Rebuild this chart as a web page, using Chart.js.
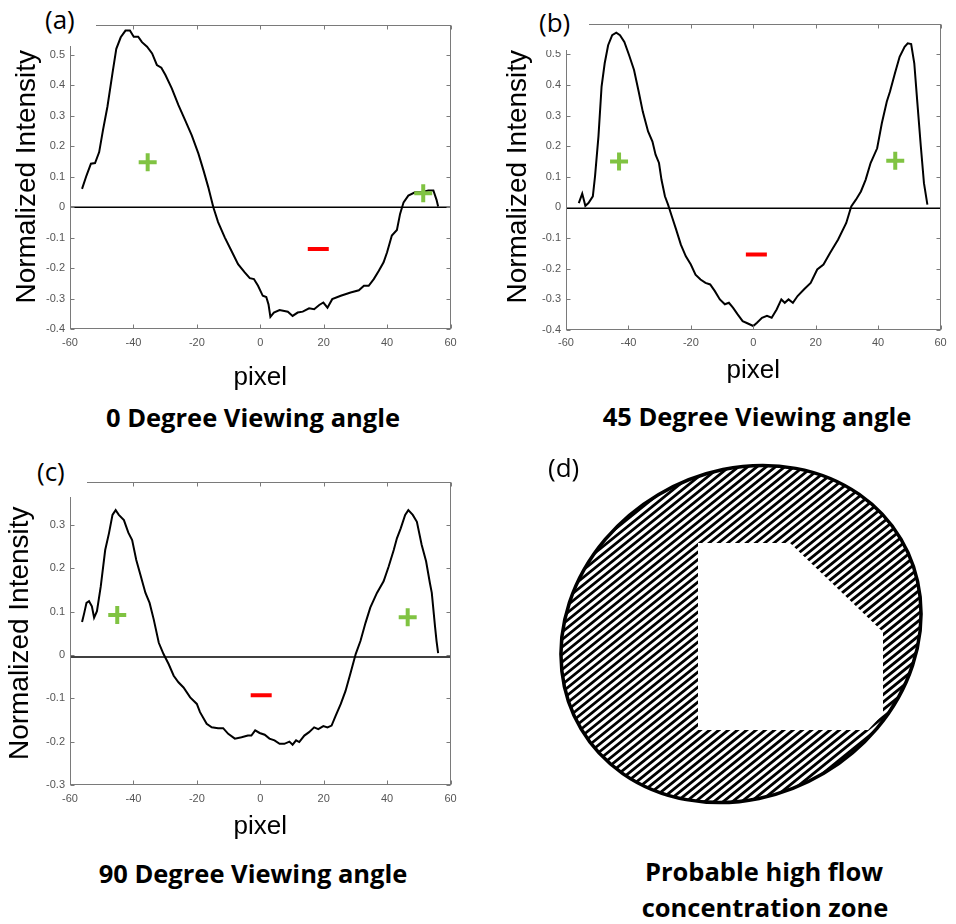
<!DOCTYPE html>
<html>
<head>
<meta charset="utf-8">
<title>Normalized intensity profiles</title>
<script src="https://cdn.jsdelivr.net/npm/chart.js@4.4.1/dist/chart.umd.min.js"></script>
<style>
  body { margin: 0; background: #fff; width: 956px; height: 924px; position: relative; overflow: hidden; }
  canvas { position: absolute; }
  .cover { position: absolute; background: #fff; }
  .tag { position: absolute; font-family: 'Open Sans', sans-serif; font-size: 26px; line-height: 26px; color: #000; }
  .cap { position: absolute; width: 400px; text-align: center; font-family: 'Open Sans', sans-serif; font-weight: bold; font-size: 25.5px; line-height: 25.5px; color: #000; }
</style>
</head>
<body>
<canvas id="chartA" width="465" height="393" style="left:0;top:0"></canvas>
<canvas id="chartB" width="465" height="386" style="left:490px;top:0"></canvas>
<canvas id="chartC" width="465" height="392" style="left:0;top:450px"></canvas>
<canvas id="chartD" width="416" height="380" style="left:540px;top:440px"></canvas>

<div class="cover" style="left:0;top:0;width:96px;height:46px"></div>
<div class="cover" style="left:478px;top:0;width:111px;height:50px"></div>
<div class="cover" style="left:0;top:450px;width:87px;height:47px"></div>

<div class="tag" style="left:45px;top:6px">(a)</div>
<div class="tag" style="left:539px;top:9px">(b)</div>
<div class="tag" style="left:37px;top:458px">(c)</div>
<div class="tag" style="left:548px;top:454px">(d)</div>

<div class="cap" style="left:53px;top:405px">0 Degree Viewing angle</div>
<div class="cap" style="left:557px;top:404px">45 Degree Viewing angle</div>
<div class="cap" style="left:53px;top:861px">90 Degree Viewing angle</div>
<div class="cap" style="left:564px;top:859px">Probable high flow</div>
<div class="cap" style="left:565px;top:895px">concentration zone</div>

<script>
    // Axis ticks
    const xTicks = [-60, -40, -20, 0, 20, 40, 60];
    const yTicksAB = [-0.4, -0.3, -0.2, -0.1, 0, 0.1, 0.2, 0.3, 0.4, 0.5, 0.6];
    const yTicksC = [-0.3, -0.2, -0.1, 0, 0.1, 0.2, 0.3, 0.4];

    // (a) 0 degree viewing angle
    const pixelA = [-56.2,-54.8,-53.4,-52.1,-50.8,-49.6,-48.2,-46.6,-45.4,-44.0,-42.5,-41.1,-39.9,-38.5,-37.3,-35.7,-34.1,-32.6,-31.2,-29.9,-27.9,-25.8,-23.7,-21.6,-19.5,-17.9,-16.4,-14.8,-13.3,-11.2,-9.1,-7.0,-4.9,-3.3,-2.0,-0.7,0.8,1.9,2.6,3.2,4.3,6.1,8.7,10.2,11.8,13.4,15.4,17.0,18.6,19.9,21.2,22.7,25.4,28.5,31.1,32.7,34.2,35.8,37.4,38.9,40.0,41.5,43.1,44.1,45.2,46.7,48.8,50.9,53.0,54.6,55.6,56.1];
    const intensityA = [0.06,0.104,0.143,0.145,0.181,0.253,0.33,0.44,0.52,0.558,0.58,0.58,0.56,0.56,0.542,0.527,0.505,0.467,0.458,0.434,0.39,0.335,0.286,0.236,0.176,0.121,0.066,0.0,-0.049,-0.099,-0.143,-0.187,-0.214,-0.233,-0.236,-0.258,-0.291,-0.295,-0.319,-0.36,-0.346,-0.338,-0.343,-0.357,-0.346,-0.343,-0.332,-0.335,-0.321,-0.313,-0.33,-0.302,-0.291,-0.28,-0.273,-0.258,-0.258,-0.236,-0.209,-0.181,-0.148,-0.093,-0.075,-0.022,0.016,0.038,0.049,0.049,0.055,0.055,0.024,0.002];
    const plusA = [[-35.5, 0.148], [51.4, 0.046]];
    const minusA = [[18.3, -0.137]];

    // (b) 45 degree viewing angle
    const pixelB = [-55.9,-54.8,-53.8,-52.8,-51.4,-50.7,-49.6,-48.6,-47.6,-46.5,-45.2,-43.9,-42.7,-41.3,-39.8,-38.2,-36.7,-35.4,-33.7,-32.3,-31.3,-30.2,-29.4,-28.3,-27.3,-26.1,-24.7,-23.2,-21.6,-20.0,-18.5,-16.9,-15.3,-13.8,-12.3,-10.7,-9.1,-7.8,-6.5,-5.0,-3.4,-1.9,0.0,1.2,2.8,4.4,5.9,7.5,9.0,10.1,11.3,12.7,14.2,16.3,18.4,20.5,22.5,24.6,27.2,29.8,31.4,32.9,34.5,36.0,37.6,39.7,41.2,42.8,43.8,45.4,46.9,48.5,49.5,50.6,51.6,52.6,53.7,54.7,55.8];
    const intensityB = [0.014,0.045,0.005,0.014,0.036,0.101,0.232,0.395,0.471,0.53,0.563,0.571,0.563,0.541,0.498,0.449,0.378,0.313,0.248,0.215,0.172,0.145,0.09,0.036,0.009,-0.029,-0.073,-0.122,-0.16,-0.187,-0.22,-0.236,-0.247,-0.252,-0.274,-0.301,-0.317,-0.312,-0.328,-0.35,-0.372,-0.379,-0.388,-0.377,-0.361,-0.355,-0.361,-0.334,-0.301,-0.312,-0.301,-0.312,-0.29,-0.268,-0.247,-0.203,-0.187,-0.149,-0.105,-0.051,0.003,0.025,0.052,0.09,0.145,0.193,0.275,0.346,0.378,0.438,0.492,0.525,0.536,0.534,0.471,0.34,0.199,0.079,0.009];
    const plusB = [[-43.0, 0.15], [45.5, 0.152]];
    const minusB = [[1.0, -0.154]];

    // (c) 90 degree viewing angle
    const pixelC = [-56.2,-55.5,-54.8,-54.0,-53.1,-52.4,-51.5,-50.3,-48.9,-47.7,-46.6,-45.6,-44.6,-43.0,-41.6,-40.4,-39.1,-37.8,-36.2,-34.9,-33.6,-32.0,-30.5,-28.9,-27.3,-25.8,-24.2,-22.1,-20.0,-19.0,-16.9,-15.3,-13.3,-11.7,-10.1,-8.0,-5.9,-3.9,-2.8,-1.6,-0.2,1.4,2.9,4.5,6.1,7.6,9.2,10.2,11.3,12.3,13.9,15.4,17.0,18.3,19.9,21.2,22.5,23.8,25.4,26.9,28.5,30.1,31.6,33.2,34.7,36.8,38.9,40.5,42.1,43.1,44.3,45.7,46.7,48.1,49.4,50.9,52.3,53.5,54.1,55.1,55.6,56.1];
    const intensityC = [0.076,0.097,0.12,0.124,0.112,0.086,0.101,0.158,0.242,0.281,0.323,0.334,0.323,0.311,0.282,0.265,0.219,0.185,0.143,0.12,0.082,0.028,0.002,-0.021,-0.048,-0.063,-0.075,-0.098,-0.113,-0.132,-0.159,-0.167,-0.169,-0.169,-0.182,-0.193,-0.19,-0.186,-0.186,-0.174,-0.18,-0.184,-0.193,-0.197,-0.205,-0.205,-0.2,-0.207,-0.197,-0.201,-0.186,-0.178,-0.167,-0.171,-0.164,-0.167,-0.163,-0.14,-0.113,-0.083,-0.041,0.002,0.032,0.074,0.109,0.143,0.17,0.204,0.242,0.269,0.292,0.323,0.334,0.323,0.307,0.254,0.216,0.166,0.143,0.067,0.032,0.004];
    const plusC = [[-45.1, 0.092], [46.5, 0.087]];
    const minusC = [[0.3, -0.093]];

    // (d) sketch of the cross section, in canvas units
    const ellipseCenter = [201, 194];
    const ellipseRadii = [186, 162];
    const ellipseTilt = -30.7;   // degrees
    const zoneX = [158, 250, 343, 343, 328, 158];
    const zoneY = [103, 103, 192, 274, 290, 290];

    const AXIS_COLOR = '#7a7a7a';
    const TICK_COLOR = '#555555';
    const FONT = "'Liberation Sans', Arial, sans-serif";

    const toPoints = (xs, ys) => xs.map((x, i) => ({ x: x, y: ys[i] }));
    const pairs = arr => arr.map(p => ({ x: p[0], y: p[1] }));

    // MATLAB style box with inward tick marks
    const boxTicks = {
      id: 'boxTicks',
      afterDatasetsDraw(chart) {
        const { ctx, chartArea: a, scales: { x, y } } = chart;
        ctx.save();
        ctx.strokeStyle = AXIS_COLOR;
        ctx.lineWidth = 1;
        const l = Math.round(a.left) + 0.5, r = Math.round(a.right) - 0.5;
        const t = Math.round(a.top) + 0.5, b = Math.round(a.bottom) - 0.5;
        ctx.strokeRect(l, t, r - l, b - t);
        ctx.beginPath();
        x.ticks.forEach(tk => {
          const px = Math.round(x.getPixelForValue(tk.value)) + 0.5;
          ctx.moveTo(px, b); ctx.lineTo(px, b - 4);
          ctx.moveTo(px, t); ctx.lineTo(px, t + 4);
        });
        y.ticks.forEach(tk => {
          const py = Math.round(y.getPixelForValue(tk.value)) + 0.5;
          ctx.moveTo(l, py); ctx.lineTo(l + 4, py);
          ctx.moveTo(r, py); ctx.lineTo(r - 4, py);
        });
        ctx.stroke();
        ctx.restore();
      }
    };

    function makeProfile(id, p) {
      const ctx = document.getElementById(id).getContext('2d');
      return new Chart(ctx, {
        type: 'scatter',
        data: {
          datasets: [
            {
              data: pairs(p.plus),
              pointStyle: 'cross',
              pointRadius: 9,
              pointBorderWidth: 4,
              borderColor: '#80c342',
              backgroundColor: '#80c342',
              order: 0
            },
            {
              data: pairs(p.minus),
              pointStyle: 'line',
              pointRadius: 10.5,
              pointBorderWidth: 4,
              borderColor: '#ff0000',
              backgroundColor: '#ff0000',
              order: 0
            },
            {
              data: toPoints(p.pixel, p.intensity),
              showLine: true,
              borderColor: '#000000',
              borderWidth: 2,
              pointRadius: 0,
              tension: 0,
              order: 1
            },
            {
              data: toPoints([-60, 60], [p.zero, p.zero]),
              showLine: true,
              borderColor: '#000000',
              borderWidth: 1.5,
              pointRadius: 0,
              order: 2
            }
          ]
        },
        options: {
          responsive: false,
          animation: false,
          devicePixelRatio: 1,
          layout: { padding: p.padding },
          plugins: { legend: { display: false }, tooltip: { enabled: false } },
          scales: {
            x: {
              type: 'linear',
              min: -60,
              max: 60,
              afterBuildTicks: s => { s.ticks = xTicks.map(v => ({ value: v })); },
              afterFit: s => { s.height = p.xAxisHeight; },
              grid: { display: false, drawTicks: false },
              border: { display: false },
              ticks: { padding: 7, color: TICK_COLOR, font: { family: FONT, size: 11 }, maxRotation: 0,
                       callback: v => String(v) },
              title: { display: true, text: 'pixel', color: '#000', padding: { top: 0, bottom: 0 },
                       font: { family: FONT, size: 26 } }
            },
            y: {
              type: 'linear',
              min: p.yTicks[0],
              max: p.yTicks[p.yTicks.length - 1],
              afterBuildTicks: s => { s.ticks = p.yTicks.map(v => ({ value: v })); },
              afterFit: s => { s.width = p.yAxisWidth; },
              grid: { display: false, drawTicks: false },
              border: { display: false },
              ticks: { padding: 5, color: TICK_COLOR, font: { family: FONT, size: 11 },
                       callback: v => String(Math.round(v * 10) / 10) },
              title: { display: true, text: 'Normalized Intensity', color: '#000',
                       padding: { top: p.titlePad, bottom: 0 }, font: { family: FONT, size: 28 } }
            }
          }
        },
        plugins: [boxTicks]
      });
    }

    makeProfile('chartA', {
      pixel: pixelA, intensity: intensityA, plus: plusA, minus: minusA, zero: 0,
      yTicks: yTicksAB, padding: { left: 0, top: 24.5, right: 12, bottom: 0 },
      yAxisWidth: 70, xAxisHeight: 64, titlePad: 10.2
    });

    makeProfile('chartB', {
      pixel: pixelB, intensity: intensityB, plus: plusB, minus: minusB, zero: -0.003,
      yTicks: yTicksAB, padding: { left: 0, top: 23.8, right: 7, bottom: 0 },
      yAxisWidth: 76, xAxisHeight: 56.3, titlePad: 11.2
    });

    makeProfile('chartC', {
      pixel: pixelC, intensity: intensityC, plus: plusC, minus: minusC, zero: -0.005,
      yTicks: yTicksC, padding: { left: 0, top: 31.5, right: 12, bottom: 0 },
      yAxisWidth: 70, xAxisHeight: 57, titlePad: 3.2
    });

    // Hatched ellipse, drawn with the chart's own scales
    function ellipsePath(chart) {
      const { ctx, scales: { x, y } } = chart;
      const cx = x.getPixelForValue(ellipseCenter[0]);
      const cy = y.getPixelForValue(ellipseCenter[1]);
      const rx = Math.abs(x.getPixelForValue(ellipseRadii[0]) - x.getPixelForValue(0));
      const ry = Math.abs(y.getPixelForValue(ellipseRadii[1]) - y.getPixelForValue(0));
      ctx.beginPath();
      ctx.ellipse(cx, cy, rx, ry, ellipseTilt * Math.PI / 180, 0, Math.PI * 2);
    }

    const hatchedEllipse = {
      id: 'hatchedEllipse',
      beforeDatasetsDraw(chart) {
        const { ctx, chartArea: a } = chart;
        ctx.save();
        ellipsePath(chart);
        ctx.clip();
        ctx.strokeStyle = '#000';
        ctx.lineWidth = 2.8;
        const slope = Math.tan(39 * Math.PI / 180);
        const w = a.right - a.left;
        ctx.beginPath();
        for (let k = a.top; k < a.bottom + w * slope; k += 7.5) {
          ctx.moveTo(a.left, k);
          ctx.lineTo(a.right, k - w * slope);
        }
        ctx.stroke();
        ctx.restore();
      },
      afterDatasetsDraw(chart) {
        const { ctx } = chart;
        ctx.save();
        ellipsePath(chart);
        ctx.strokeStyle = '#000';
        ctx.lineWidth = 3.5;
        ctx.stroke();
        ctx.restore();
      }
    };

    const zonePoints = toPoints(zoneX, zoneY);
    zonePoints.push(zonePoints[0]);

    new Chart(document.getElementById('chartD').getContext('2d'), {
      type: 'scatter',
      data: {
        datasets: [{
          data: zonePoints,
          showLine: true,
          fill: 'shape',
          backgroundColor: '#ffffff',
          borderColor: '#ffffff',
          borderWidth: 0,
          pointRadius: 0,
          tension: 0
        }]
      },
      options: {
        responsive: false,
        animation: false,
        devicePixelRatio: 1,
        layout: { padding: 0 },
        plugins: { legend: { display: false }, tooltip: { enabled: false } },
        scales: {
          x: { type: 'linear', min: 0, max: 416, display: false },
          y: { type: 'linear', min: 0, max: 380, reverse: true, display: false }
        }
      },
      plugins: [hatchedEllipse]
    });
</script>
</body>
</html>
